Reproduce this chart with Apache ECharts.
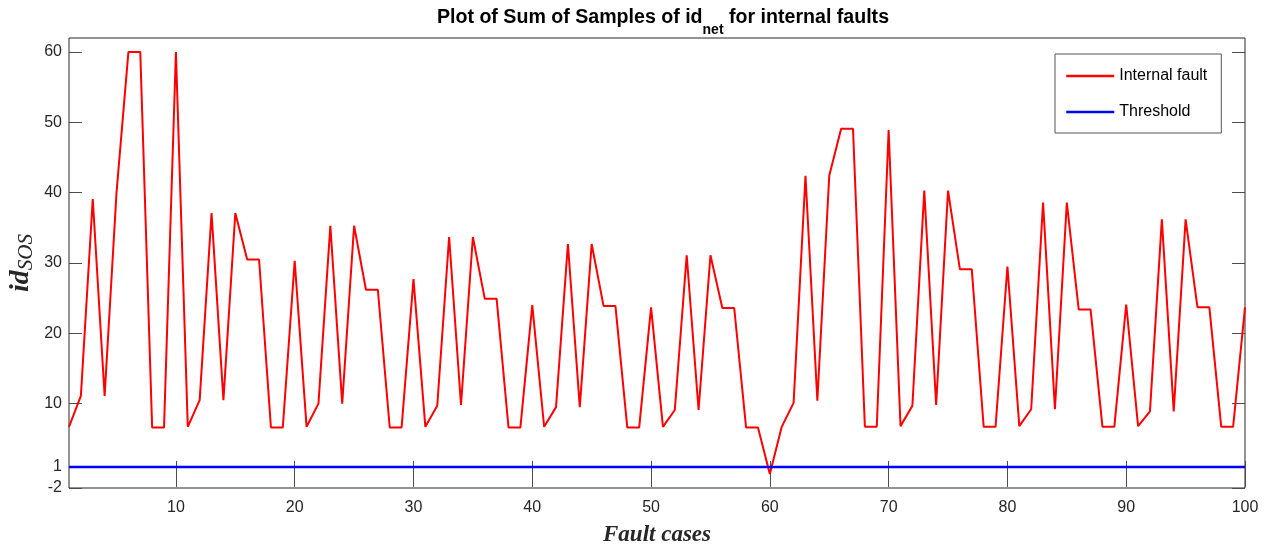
<!DOCTYPE html>
<html>
<head>
<meta charset="utf-8">
<script src="https://cdn.jsdelivr.net/npm/echarts@6/dist/echarts.min.js"></script>
<style>html,body{margin:0;padding:0;background:#fff}#c{width:1273px;height:550px}</style>
</head>
<body>
<div id="c"></div>
<script>
// ---- data ----
const faultValues = [
  6.7, 11.1, 39.1, 11.1, 40.0, 60.0, 60.0, 6.6, 6.6, 60.0,
  6.7, 10.5, 37.1, 10.5, 37.1, 30.5, 30.5, 6.6, 6.6, 30.3,
  6.7, 10.0, 35.3, 10.0, 35.3, 26.2, 26.2, 6.6, 6.6, 27.7,
  6.7, 9.7, 33.7, 9.8, 33.7, 24.9, 24.9, 6.6, 6.6, 24.0,
  6.7, 9.5, 32.7, 9.5, 32.7, 23.9, 23.9, 6.6, 6.6, 23.7,
  6.7, 9.1, 31.1, 9.1, 31.1, 23.6, 23.6, 6.6, 6.6, 0.0,
  6.7, 10.1, 42.4, 10.4, 42.4, 49.1, 49.1, 6.7, 6.7, 48.9,
  6.8, 9.7, 40.3, 9.8, 40.3, 29.1, 29.1, 6.7, 6.7, 29.5,
  6.8, 9.2, 38.6, 9.2, 38.6, 23.4, 23.4, 6.7, 6.7, 24.1,
  6.8, 8.9, 36.2, 8.9, 36.2, 23.7, 23.7, 6.7, 6.7, 23.7
];
const thresholdValue = 1;
const xTicks = [10, 20, 30, 40, 50, 60, 70, 80, 90, 100];
const yTicks = [-2, 1, 10, 20, 30, 40, 50, 60];
const seriesNames = ['Internal fault', 'Threshold'];

const faultData = faultValues.map((v, i) => [i + 1, v]);
const thresholdData = [[1, thresholdValue], [faultValues.length, thresholdValue]];

const txt = '#262626';
const tickStyle = { inside: true, length: 13, lineStyle: { color: '#4d4d4d', width: 1 } };

const chart = echarts.init(document.getElementById('c'), null, { renderer: 'canvas' });
chart.setOption({
  animation: false,
  backgroundColor: '#fff',
  title: {
    text: '{a|Plot of Sum of Samples of id}{s|net}{a| for internal faults}',
    left: 663,
    textAlign: 'center',
    top: 8,
    padding: 0,
    textStyle: {
      rich: {
        a: { fontFamily: 'Liberation Sans', fontWeight: 'bold', fontSize: 19.6, color: '#000', lineHeight: 20, verticalAlign: 'top' },
        s: { fontFamily: 'Liberation Sans', fontWeight: 'bold', fontSize: 14, color: '#000', lineHeight: 15, padding: [15, 0, 0, 0], verticalAlign: 'top' }
      }
    }
  },
  legend: {
    orient: 'vertical',
    left: 1055,
    top: 54,
    padding: [14, 14, 13, 10],
    itemWidth: 48,
    itemHeight: 14,
    itemGap: 20,
    borderColor: '#555',
    borderWidth: 1,
    backgroundColor: '#fff',
    itemStyle: { opacity: 0 },
    lineStyle: { width: 2.5 },
    textStyle: { fontFamily: 'Liberation Sans', fontSize: 16, color: '#000' },
    data: seriesNames
  },
  grid: { left: 69, right: 28, top: 38, bottom: 62, show: true, borderColor: '#262626', borderWidth: 1, backgroundColor: '#fff', outerBoundsMode: 'none', containLabel: false },
  xAxis: [
    {
      type: 'value', min: 1, max: 100, position: 'bottom',
      name: 'Fault cases', nameLocation: 'middle', nameGap: 36,
      nameTextStyle: { fontFamily: 'Liberation Serif', fontStyle: 'italic', fontWeight: 'bold', fontSize: 23, color: txt },
      axisLine: { show: false },
      axisTick: Object.assign({ customValues: xTicks }, tickStyle),
      axisLabel: { customValues: xTicks, margin: 12, fontFamily: 'Liberation Sans', fontSize: 16, color: txt },
      splitLine: { show: false }
    },
    {
      type: 'value', min: 1, max: 100, position: 'top',
      axisLine: { show: false },
      axisTick: Object.assign({ customValues: xTicks }, tickStyle),
      axisLabel: { show: false },
      splitLine: { show: false }
    }
  ],
  yAxis: [
    {
      type: 'value', min: -2, max: 62, position: 'left',
      name: '{i|id}{s|SOS}', nameLocation: 'middle', nameGap: 34, nameRotate: 90,
      nameMoveOverlap: false,
      nameTextStyle: {
        rich: {
          i: { fontFamily: 'Liberation Serif', fontStyle: 'italic', fontWeight: 'bold', fontSize: 28, color: txt, lineHeight: 28, verticalAlign: 'top' },
          s: { fontFamily: 'Liberation Serif', fontStyle: 'italic', fontSize: 21, color: txt, lineHeight: 20, padding: [9, 0, 0, 0], verticalAlign: 'top' }
        }
      },
      axisLine: { show: false },
      axisTick: Object.assign({ customValues: yTicks }, tickStyle),
      axisLabel: { customValues: yTicks, margin: 7, fontFamily: 'Liberation Sans', fontSize: 16, color: txt },
      splitLine: { show: false }
    },
    {
      type: 'value', min: -2, max: 62, position: 'right',
      axisLine: { show: false },
      axisTick: Object.assign({ customValues: yTicks }, tickStyle),
      axisLabel: { show: false },
      splitLine: { show: false }
    }
  ],
  series: [
    {
      name: seriesNames[0], type: 'line', data: faultData, symbol: 'none',
      lineStyle: { color: '#ff0000', width: 2 }, itemStyle: { color: '#ff0000' }, z: 3
    },
    {
      name: seriesNames[1], type: 'line', data: thresholdData, symbol: 'none',
      lineStyle: { color: '#0000ff', width: 2.5 }, itemStyle: { color: '#0000ff' }, z: 4
    }
  ]
});
</script>
</body>
</html>
